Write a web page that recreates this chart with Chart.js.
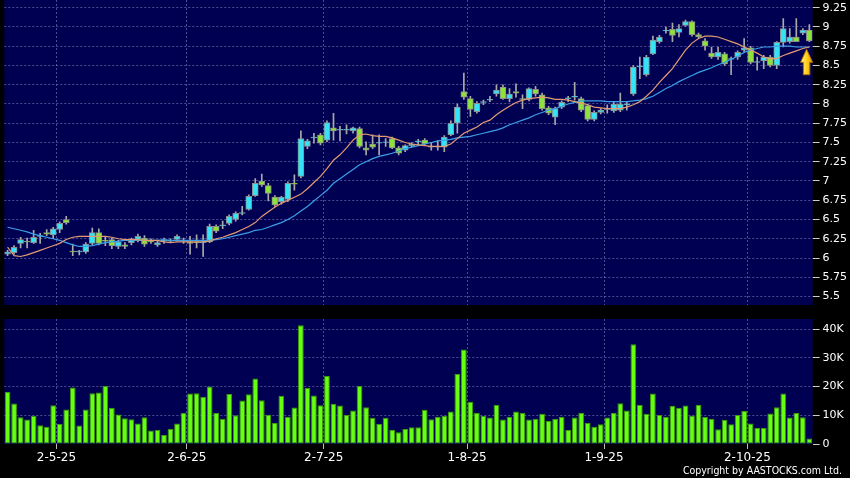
<!DOCTYPE html>
<html>
<head>
<meta charset="utf-8">
<script src="https://cdn.jsdelivr.net/npm/chart.js@4.4.0/dist/chart.umd.min.js"></script>
<style>
  html, body { margin: 0; padding: 0; background: #000; }
  #wrap { position: relative; width: 850px; height: 478px; overflow: hidden; background: #000; }
  #price { position: absolute; left: 0; top: 0; }
  #vol { position: absolute; left: 0; top: 312px; }
  #copy { position: absolute; right: 8px; top: 464px; color: #fff; font: 10.5px 'DejaVu Sans Condensed', 'DejaVu Sans', sans-serif; }
</style>
</head>
<body>
<div id="wrap">
  <canvas id="price" width="850" height="305"></canvas>
  <canvas id="vol" width="850" height="166"></canvas>
  <div id="copy">Copyright by AASTOCKS.com Ltd.</div>
</div>
<script>
// trading days per month (2025)
var aprDays = [17, 22, 23, 24, 25, 28, 29, 30];
var mayDays = [2, 6, 7, 8, 9, 12, 13, 14, 15, 16, 19, 20, 21, 22, 23, 26, 27, 28, 29, 30];
var junDays = [2, 3, 4, 5, 6, 9, 10, 11, 12, 13, 16, 17, 18, 19, 20, 23, 24, 25, 26, 27, 30];
var julDays = [2, 3, 4, 7, 8, 9, 10, 11, 14, 15, 16, 17, 18, 21, 22, 23, 24, 25, 28, 29, 30, 31];
var augDays = [1, 4, 5, 6, 7, 8, 11, 12, 13, 14, 15, 18, 19, 20, 21, 22, 25, 26, 27, 28, 29];
var sepDays = [1, 2, 3, 4, 5, 8, 9, 10, 11, 12, 15, 16, 17, 18, 19, 22, 23, 24, 25, 26, 29, 30];
var octDays = [2, 3, 6, 8, 9, 10, 13, 14, 15, 16];

var categories = [];
[[aprDays, 4], [mayDays, 5], [junDays, 6], [julDays, 7], [augDays, 8], [sepDays, 9], [octDays, 10]].forEach(function (m) {
  m[0].forEach(function (d) { categories.push(d + '-' + m[1] + '-25'); });
});

var open = [
  6.05, 6.07, 6.19, 6.22, 6.20, 6.28, 6.33, 6.30, 6.37, 6.50,
  6.09, 6.08, 6.08, 6.19, 6.33, 6.23, 6.24, 6.15, 6.17, 6.20,
  6.24, 6.26, 6.22, 6.17, 6.22, 6.23, 6.24, 6.23, 6.21, 6.21,
  6.20, 6.21, 6.41, 6.42, 6.45, 6.50, 6.58, 6.63, 6.81, 7.00,
  6.94, 6.79, 6.73, 6.76, 6.97, 7.06, 7.45, 7.56, 7.60, 7.53,
  7.69, 7.66, 7.66, 7.65, 7.68, 7.43, 7.48, 7.49, 7.50, 7.55,
  7.43, 7.40, 7.46, 7.51, 7.53, 7.44, 7.45, 7.44, 7.60, 7.75,
  8.16, 8.07, 7.90, 8.02, 8.05, 8.13, 8.22, 8.07, 8.16, 8.07,
  8.06, 8.19, 8.12, 7.95, 7.83, 7.96, 8.07, 8.09, 8.07, 7.98,
  7.80, 7.89, 7.93, 7.91, 7.92, 7.99, 8.13, 8.48, 8.38, 8.65,
  8.81, 8.95, 8.97, 8.93, 9.02, 9.07, 8.90, 8.82, 8.66, 8.61,
  8.65, 8.58, 8.61, 8.70, 8.73, 8.54, 8.56, 8.61, 8.50, 8.80,
  8.81, 8.87, 8.92, 8.96
];
var high = [
  6.10, 6.16, 6.27, 6.26, 6.36, 6.32, 6.37, 6.40, 6.47, 6.54,
  6.18, 6.10, 6.20, 6.39, 6.38, 6.27, 6.26, 6.23, 6.20, 6.26,
  6.31, 6.29, 6.25, 6.23, 6.26, 6.25, 6.30, 6.26, 6.28, 6.30,
  6.30, 6.44, 6.43, 6.48, 6.56, 6.60, 6.67, 6.82, 7.03, 7.09,
  6.97, 6.81, 6.80, 6.99, 7.08, 7.65, 7.54, 7.62, 7.62, 7.78,
  7.88, 7.71, 7.73, 7.70, 7.70, 7.51, 7.60, 7.60, 7.55, 7.57,
  7.45, 7.47, 7.50, 7.54, 7.55, 7.50, 7.52, 7.59, 7.78, 8.00,
  8.40, 8.10, 8.03, 8.05, 8.10, 8.25, 8.25, 8.20, 8.26, 8.12,
  8.21, 8.23, 8.14, 7.97, 7.96, 8.04, 8.10, 8.28, 8.09, 8.00,
  7.91, 7.94, 7.99, 8.02, 8.14, 8.03, 8.50, 8.61, 8.63, 8.88,
  8.89, 9.00, 9.05, 9.03, 9.09, 9.08, 8.92, 8.85, 8.74, 8.74,
  8.67, 8.61, 8.69, 8.85, 8.75, 8.61, 8.63, 8.63, 8.81, 9.11,
  8.98, 9.11, 8.98, 9.03
];
var low = [
  6.03, 6.05, 6.13, 6.13, 6.19, 6.19, 6.29, 6.25, 6.33, 6.44,
  6.03, 6.04, 6.06, 6.17, 6.17, 6.16, 6.12, 6.12, 6.12, 6.17,
  6.21, 6.15, 6.19, 6.15, 6.19, 6.20, 6.22, 6.19, 6.05, 6.13,
  6.02, 6.20, 6.33, 6.38, 6.43, 6.48, 6.56, 6.62, 6.80, 6.93,
  6.74, 6.67, 6.70, 6.73, 6.88, 7.04, 7.42, 7.49, 7.47, 7.51,
  7.53, 7.52, 7.61, 7.62, 7.43, 7.34, 7.42, 7.34, 7.45, 7.42,
  7.34, 7.38, 7.44, 7.47, 7.46, 7.40, 7.40, 7.38, 7.59, 7.62,
  8.06, 7.84, 7.88, 7.99, 8.03, 8.10, 8.06, 8.03, 8.09, 7.94,
  8.04, 8.10, 7.92, 7.86, 7.73, 7.94, 8.03, 8.05, 7.90, 7.78,
  7.78, 7.87, 7.88, 7.89, 7.90, 7.92, 8.11, 8.33, 8.36, 8.64,
  8.79, 8.92, 8.81, 8.87, 9.01, 8.88, 8.86, 8.70, 8.59, 8.58,
  8.50, 8.38, 8.58, 8.68, 8.52, 8.44, 8.46, 8.48, 8.46, 8.74,
  8.79, 8.81, 8.90, 8.81
];
var close = [
  6.08, 6.14, 6.24, 6.21, 6.27, 6.29, 6.31, 6.38, 6.45, 6.46,
  6.08, 6.09, 6.18, 6.33, 6.19, 6.22, 6.16, 6.21, 6.15, 6.24,
  6.28, 6.18, 6.21, 6.20, 6.23, 6.22, 6.28, 6.22, 6.19, 6.20,
  6.21, 6.41, 6.35, 6.43, 6.54, 6.58, 6.59, 6.80, 6.97, 6.95,
  6.84, 6.69, 6.79, 6.97, 6.96, 7.55, 7.52, 7.57, 7.49, 7.76,
  7.65, 7.67, 7.67, 7.69, 7.45, 7.40, 7.44, 7.50, 7.51, 7.43,
  7.36, 7.46, 7.48, 7.52, 7.48, 7.45, 7.44, 7.57, 7.75, 7.96,
  8.09, 7.93, 8.01, 8.03, 8.06, 8.18, 8.07, 8.13, 8.14, 8.06,
  8.20, 8.13, 7.94, 7.88, 7.94, 8.02, 8.08, 8.10, 7.92, 7.80,
  7.89, 7.92, 7.94, 8.00, 8.00, 8.00, 8.48, 8.49, 8.61, 8.83,
  8.87, 8.96, 8.89, 8.98, 9.07, 8.90, 8.87, 8.75, 8.61, 8.67,
  8.52, 8.59, 8.67, 8.73, 8.54, 8.55, 8.61, 8.50, 8.80, 8.98,
  8.87, 8.81, 8.96, 8.82
];
var volume = [
  18100, 14100, 9300, 8500, 9800, 6500, 6000, 13500, 7000, 12000,
  19700, 6400, 12000, 17700, 17900, 20200, 12600, 10300, 9000, 8600,
  7100, 9300, 4700, 4900, 3100, 5200, 7100, 10900, 17600, 17700,
  16400, 20000, 10800, 8800, 17400, 10000, 15100, 17300, 22800, 15200,
  10200, 7300, 16800, 9500, 12700, 41300, 19500, 16900, 13500, 23700,
  14000, 13400, 10100, 11700, 20200, 12800, 9100, 7000, 9100, 5000,
  4100, 5200, 5800, 5800, 11900, 8600, 9500, 9800, 11300, 24400,
  32900, 14700, 10900, 9800, 9200, 13600, 8500, 9500, 11300, 10800,
  8500, 8800, 10500, 8000, 8800, 9500, 4900, 9200, 10900, 7300,
  6000, 6900, 9200, 10900, 14200, 11700, 34700, 13600, 10500, 17600,
  10100, 9500, 13300, 12600, 13400, 9900, 13600, 9400, 8800, 5100,
  8400, 6900, 10100, 11500, 7100, 5600, 5600, 10600, 12800, 17600,
  9200, 10800, 9300, 1900
];
// moving average lines
var maShort = [
  6.14, 6.03, 6.02, 6.04, 6.07, 6.10, 6.13, 6.16, 6.19, 6.24,
  6.27, 6.28, 6.28, 6.28, 6.28, 6.28, 6.27, 6.25, 6.24, 6.24,
  6.24, 6.23, 6.23, 6.23, 6.21, 6.20, 6.21, 6.21, 6.21, 6.21,
  6.21, 6.22, 6.25, 6.27, 6.30, 6.33, 6.37, 6.41, 6.46, 6.54,
  6.60, 6.66, 6.71, 6.75, 6.79, 6.83, 6.90, 6.98, 7.06, 7.16,
  7.27, 7.34, 7.43, 7.53, 7.60, 7.61, 7.59, 7.58, 7.58, 7.56,
  7.53, 7.50, 7.48, 7.47, 7.46, 7.45, 7.45, 7.45, 7.48, 7.55,
  7.62, 7.66, 7.70, 7.76, 7.79, 7.86, 7.92, 7.97, 8.02, 8.05,
  8.07, 8.08, 8.09, 8.08, 8.06, 8.06, 8.05, 8.03, 8.01, 7.99,
  7.96, 7.95, 7.94, 7.94, 7.94, 7.96, 7.99, 8.03, 8.10, 8.18,
  8.28, 8.37, 8.46, 8.58, 8.70, 8.79, 8.85, 8.88, 8.88, 8.87,
  8.84, 8.81, 8.78, 8.74, 8.70, 8.66, 8.61, 8.59, 8.59, 8.63,
  8.66, 8.69, 8.72, 8.74
];
var maLong = [
  6.40, 6.38, 6.36, 6.34, 6.31, 6.29, 6.27, 6.25, 6.23, 6.20,
  6.17, 6.15, 6.15, 6.16, 6.18, 6.20, 6.21, 6.22, 6.23, 6.23,
  6.23, 6.23, 6.23, 6.23, 6.24, 6.23, 6.23, 6.23, 6.23, 6.23,
  6.23, 6.23, 6.24, 6.25, 6.27, 6.29, 6.31, 6.33, 6.36, 6.37,
  6.40, 6.43, 6.46, 6.50, 6.55, 6.61, 6.67, 6.74, 6.81, 6.88,
  6.97, 7.03, 7.09, 7.15, 7.21, 7.25, 7.29, 7.32, 7.34, 7.36,
  7.39, 7.42, 7.44, 7.46, 7.48, 7.50, 7.52, 7.53, 7.54, 7.56,
  7.57, 7.58, 7.60, 7.62, 7.64, 7.66, 7.69, 7.73, 7.76, 7.79,
  7.82, 7.86, 7.89, 7.92, 7.94, 7.97, 8.00, 8.02, 8.04, 8.04,
  8.04, 8.04, 8.03, 8.03, 8.03, 8.03, 8.04, 8.05, 8.07, 8.10,
  8.15, 8.20, 8.24, 8.29, 8.33, 8.37, 8.41, 8.44, 8.47, 8.51,
  8.54, 8.58, 8.62, 8.67, 8.70, 8.72, 8.74, 8.74, 8.75, 8.75,
  8.75, 8.74, 8.74, 8.74
];
var priceTicks = [5.5, 5.75, 6, 6.25, 6.5, 6.75, 7, 7.25, 7.5, 7.75, 8, 8.25, 8.5, 8.75, 9, 9.25];
var volTicks = [0, 10000, 20000, 30000, 40000];
var volTickLabels = ['0', '10K', '20K', '30K', '40K'];

var UP = '#36e2f6', DOWN = '#8fe23c';
var GRID = 'rgba(118,118,182,0.65)';
var AXIS_FONT = 'DejaVu Sans';

// first trading day of each month gets a label and a grid line
var monthStarts = [];
categories.forEach(function (c, i) {
  if (i > 0 && c.split('-')[1] !== categories[i - 1].split('-')[1]) monthStarts.push(i);
});
function monthGrid(ctx) {
  return monthStarts.indexOf(ctx.index) >= 0 ? GRID : 'rgba(0,0,0,0)';
}
// keep the plot edges where they are in the picture
function noPad(s) {
  s.paddingTop = 0;
  s.paddingBottom = 0;
}

var navyBg = {
  id: 'navyBg',
  beforeDraw: function (chart) {
    var a = chart.chartArea, c = chart.ctx;
    c.save();
    c.fillStyle = '#000052';
    c.fillRect(a.left, a.top, a.right - a.left, a.bottom - a.top);
    c.restore();
  }
};

// yellow "latest" arrow under the last candles
var lastArrow = {
  id: 'lastArrow',
  afterDraw: function (chart) {
    var x = chart.scales.x, y = chart.scales.y, c = chart.ctx;
    var n = categories.length;
    var cx = (x.getPixelForValue(n - 1) + x.getPixelForValue(n - 2)) / 2 + 0.5;
    var top = y.getPixelForValue(8.71), bot = y.getPixelForValue(8.38);
    var head = 13, hw = 6, sw = 3.2;
    var g = c.createLinearGradient(cx - hw, 0, cx + hw, 0);
    g.addColorStop(0, '#fff3a0');
    g.addColorStop(0.5, '#ffd21c');
    g.addColorStop(1, '#e29a00');
    c.save();
    c.beginPath();
    c.moveTo(cx, top);
    c.lineTo(cx + hw, top + head);
    c.lineTo(cx + sw, top + head);
    c.lineTo(cx + sw, bot);
    c.lineTo(cx - sw, bot);
    c.lineTo(cx - sw, top + head);
    c.lineTo(cx - hw, top + head);
    c.closePath();
    c.fillStyle = g;
    c.fill();
    c.strokeStyle = '#b86e00';
    c.lineWidth = 1;
    c.stroke();
    c.restore();
  }
};

var bodies = open.map(function (o, i) { return [o, close[i]]; });
var wicks = low.map(function (l, i) { return [l, high[i]]; });
var bodyColors = open.map(function (o, i) { return close[i] >= o ? UP : DOWN; });

new Chart(document.getElementById('price'), {
  type: 'bar',
  data: {
    labels: categories,
    datasets: [
      { type: 'line', data: maShort, borderColor: '#e49a72', borderWidth: 1.2, pointRadius: 0, tension: 0, order: 1 },
      { type: 'line', data: maLong, borderColor: '#3b9fe6', borderWidth: 1.2, pointRadius: 0, tension: 0, order: 1 },
      { data: bodies, backgroundColor: bodyColors, borderColor: '#8c8c8c', borderWidth: 1, borderSkipped: false, barThickness: 6, grouped: false, order: 2 },
      { data: wicks, backgroundColor: '#a9a9a9', barThickness: 1, grouped: false, order: 3 }
    ]
  },
  options: {
    responsive: false,
    animation: false,
    layout: { padding: { left: 4.3, right: 0, top: 0, bottom: 0 } },
    plugins: { legend: { display: false }, tooltip: { enabled: false } },
    scales: {
      x: {
        offset: true,
        grid: { offset: true, color: monthGrid, drawTicks: false },
        border: { display: false, dash: [2, 2] },
        ticks: { display: false },
        afterFit: function (s) { s.height = 0; }
      },
      y: {
        position: 'right',
        min: 5.39,
        max: 9.35,
        afterBuildTicks: function (s) { s.ticks = priceTicks.map(function (v) { return { value: v }; }); },
        grid: { color: GRID, tickColor: '#cfcfcf', tickLength: 7, tickBorderDash: [] },
        border: { display: false, dash: [2, 2] },
        ticks: { color: '#ffffff', padding: 3, font: { family: AXIS_FONT, size: 11 }, callback: function (v) { return String(v); } },
        afterFit: function (s) { s.width = 37.4; noPad(s); }
      }
    }
  },
  plugins: [navyBg, lastArrow]
});

new Chart(document.getElementById('vol'), {
  type: 'bar',
  data: {
    labels: categories,
    datasets: [
      { data: volume, backgroundColor: '#66ff12', borderColor: '#3c9a08', borderWidth: 1, borderSkipped: false, categoryPercentage: 1, barPercentage: 0.88 }
    ]
  },
  options: {
    responsive: false,
    animation: false,
    layout: { padding: { left: 4.3, right: 0, top: 7, bottom: 0 } },
    plugins: { legend: { display: false }, tooltip: { enabled: false } },
    scales: {
      x: {
        offset: true,
        grid: { offset: true, color: monthGrid, tickColor: function (ctx) { return monthStarts.indexOf(ctx.index) >= 0 ? '#bdbdbd' : 'rgba(0,0,0,0)'; }, tickLength: 5, tickBorderDash: [] },
        border: { display: false, dash: [2, 2] },
        ticks: {
          autoSkip: false, maxRotation: 0, minRotation: 0, color: '#ffffff', padding: 2, labelOffset: -3.27,
          font: { family: AXIS_FONT, size: 12 },
          callback: function (v, i) { return monthStarts.indexOf(i) >= 0 ? categories[i] : ''; }
        },
        afterFit: function (s) { s.height = 34; }
      },
      y: {
        position: 'right',
        min: 0,
        max: 43500,
        afterBuildTicks: function (s) { s.ticks = volTicks.map(function (v) { return { value: v }; }); },
        grid: { color: function (ctx) { return ctx.tick && ctx.tick.value === 0 ? 'rgba(0,0,0,0)' : GRID; }, tickColor: '#cfcfcf', tickLength: 7, tickBorderDash: [] },
        border: { display: false, dash: [2, 2] },
        ticks: { color: '#ffffff', padding: 3, font: { family: AXIS_FONT, size: 11 }, callback: function (v) { return volTickLabels[volTicks.indexOf(v)]; } },
        afterFit: function (s) { s.width = 37.4; noPad(s); }
      }
    }
  },
  plugins: [navyBg]
});
</script>
</body>
</html>
